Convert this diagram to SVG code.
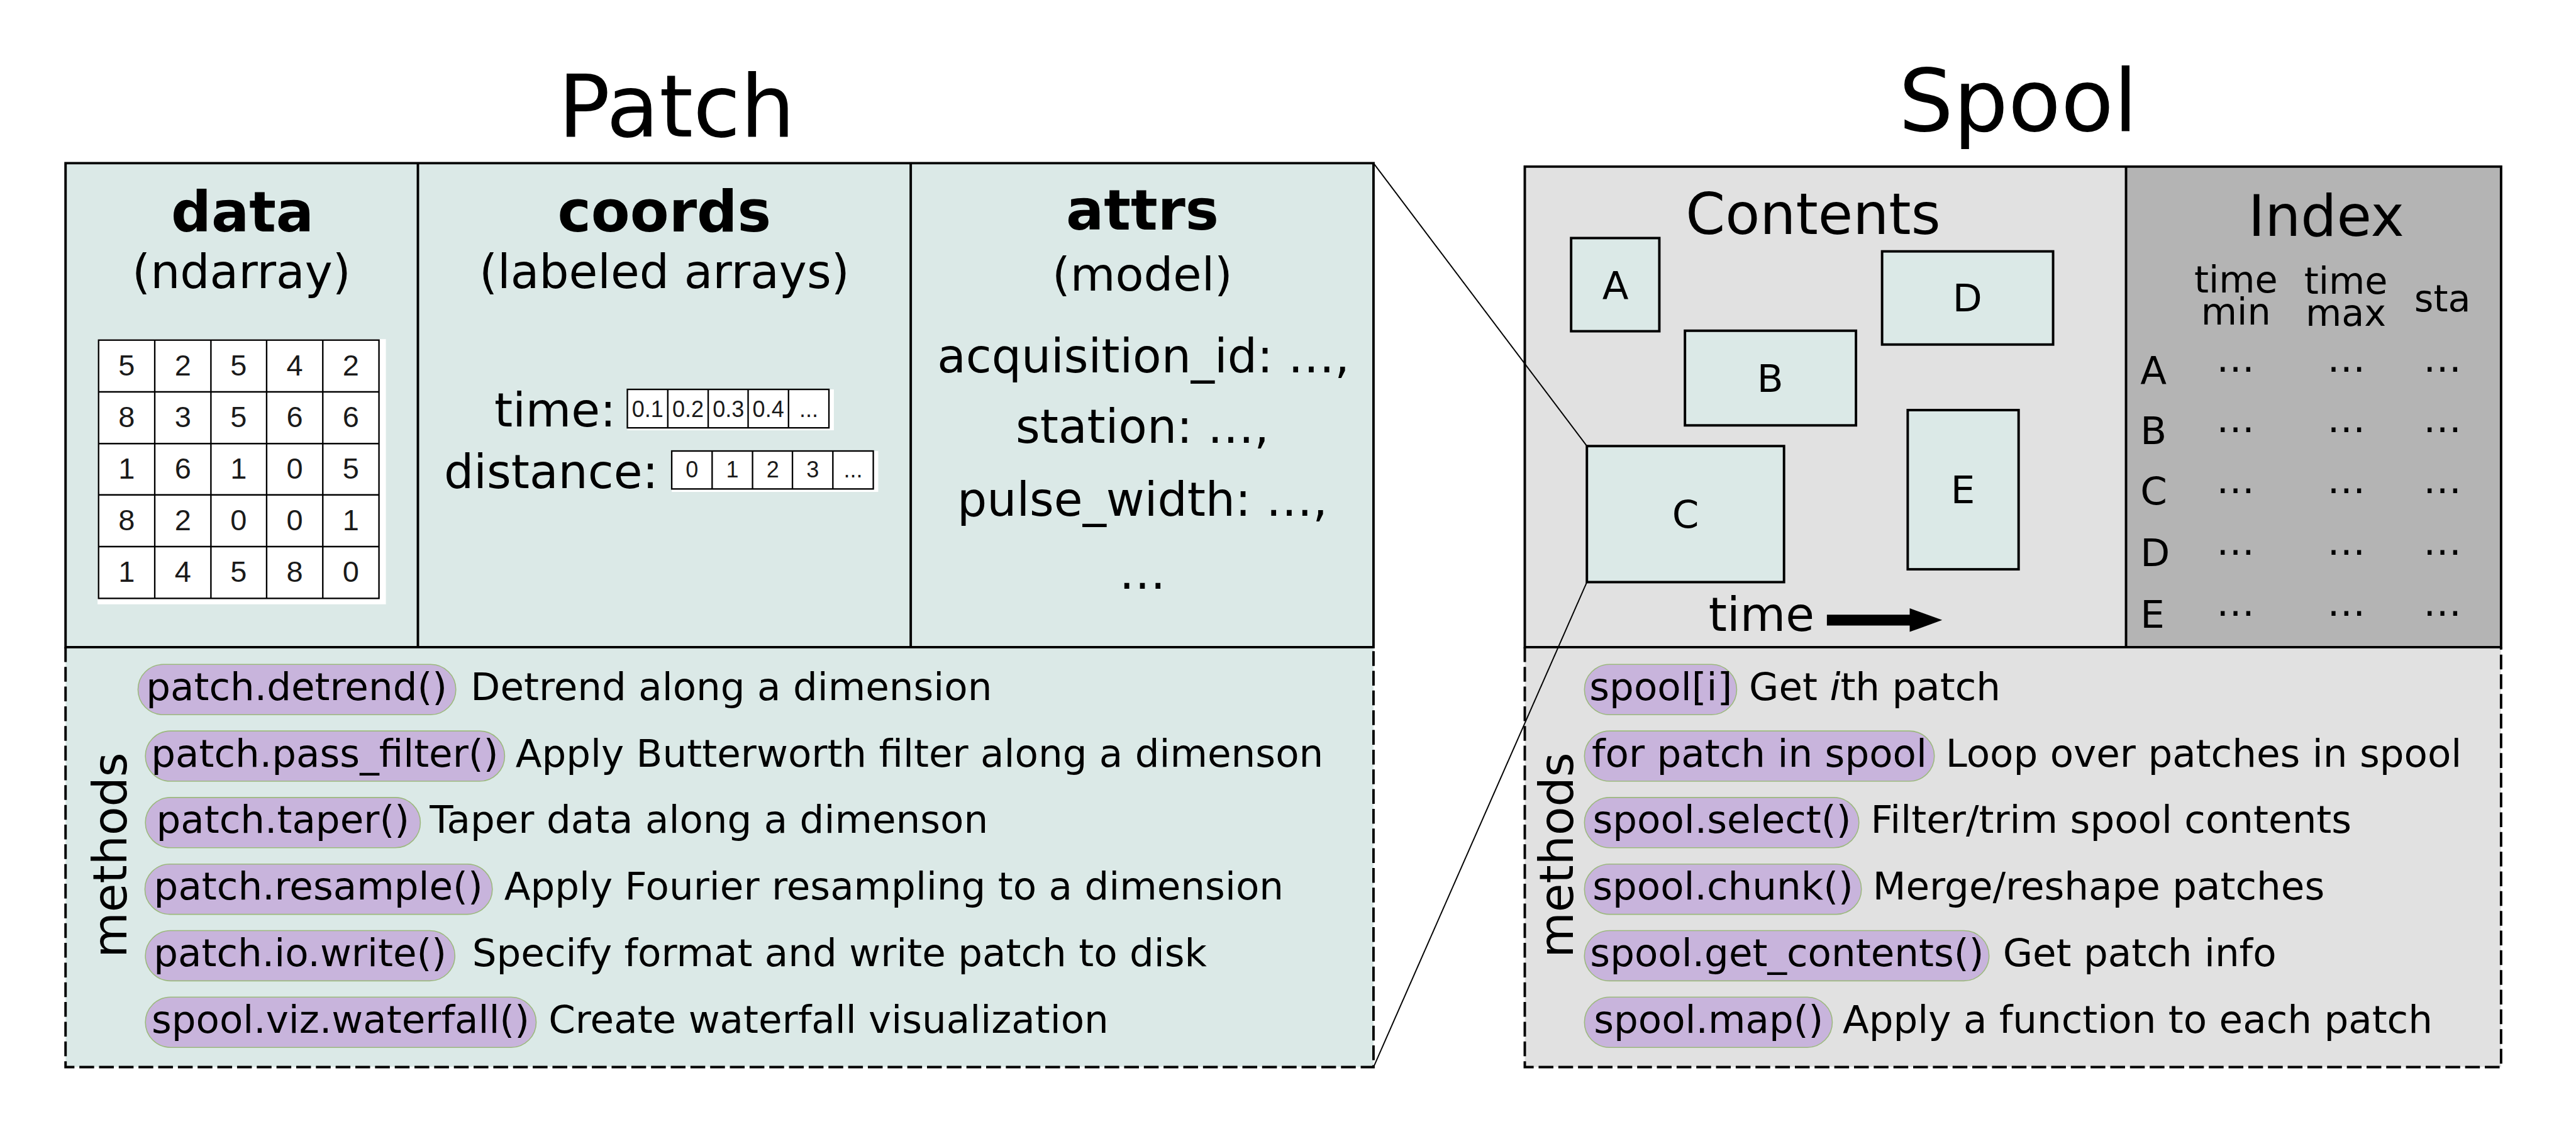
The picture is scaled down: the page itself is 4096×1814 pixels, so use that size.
<svg xmlns="http://www.w3.org/2000/svg" width="4096" height="1814" viewBox="0 0 4096 1814">
<style>
.t{font-family:"DejaVu Sans","Liberation Sans",sans-serif;fill:#000}
.b{font-weight:bold}
.m{text-anchor:middle}
.num{font-family:"Liberation Sans",Arial,sans-serif;fill:#1a1a1a;text-anchor:middle}
.pill{fill:#c8b4dc;stroke:#9cb97e;stroke-width:2}
.solid{stroke:#000;stroke-width:5;fill:none}
.dash{stroke:#000;stroke-width:5;fill:none;stroke-dasharray:30 10}
.grid{stroke:#000;stroke-width:3;fill:none}
.patchbg{fill:#dbe9e7}
.spoolbg{fill:#e1e1e1}
.idxbg{fill:#b4b4b4}
.pbox{fill:#dbe9e7;stroke:#000;stroke-width:5}
.conn{stroke:#000;stroke-width:2.5;fill:none}
</style>
<rect width="4096" height="1814" fill="#fff"/>
<g transform="scale(0.78362)">

<g id="patch">
  <text class="t m" x="1373" y="277" font-size="175">Patch</text>
  <rect class="patchbg" x="133" y="331" width="2654" height="1834"/>
  <g id="patch-data">
    <text class="t b m" x="492" y="469" font-size="114">data</text>
    <text class="t m" x="490" y="585" font-size="95">(ndarray)</text>
    <rect x="198" y="688" width="585" height="538" fill="#fff"/>
    <g class="grid">
      <rect x="200" y="690" width="569" height="524"/>
      <path d="M314 690V1214M428 690V1214M541 690V1214M655 690V1214M200 795H769M200 900H769M200 1004H769M200 1109H769"/>
    </g>
    <g class="num" font-size="60">
      <text x="257" y="762">5</text><text x="371" y="762">2</text><text x="484" y="762">5</text><text x="598" y="762">4</text><text x="712" y="762">2</text>
      <text x="257" y="867">8</text><text x="371" y="867">3</text><text x="484" y="867">5</text><text x="598" y="867">6</text><text x="712" y="867">6</text>
      <text x="257" y="971">1</text><text x="371" y="971">6</text><text x="484" y="971">1</text><text x="598" y="971">0</text><text x="712" y="971">5</text>
      <text x="257" y="1076">8</text><text x="371" y="1076">2</text><text x="484" y="1076">0</text><text x="598" y="1076">0</text><text x="712" y="1076">1</text>
      <text x="257" y="1181">1</text><text x="371" y="1181">4</text><text x="484" y="1181">5</text><text x="598" y="1181">8</text><text x="712" y="1181">0</text>
    </g>
  </g>
  <g id="patch-coords">
    <text class="t b m" x="1348" y="469" font-size="115">coords</text>
    <text class="t m" x="1348" y="585" font-size="95">(labeled arrays)</text>
    <text class="t" x="1003" y="865" font-size="95">time:</text>
    <rect x="1273" y="790" width="419" height="83" fill="#fff"/>
    <g class="grid" stroke-width="2.5">
      <rect x="1273" y="790" width="409" height="78"/>
      <path d="M1355 790V868M1437 790V868M1518 790V868M1600 790V868"/>
    </g>
    <g class="num" font-size="46">
      <text x="1314" y="846">0.1</text><text x="1396" y="846">0.2</text><text x="1478" y="846">0.3</text><text x="1559" y="846">0.4</text><text x="1641" y="846">...</text>
    </g>
    <text class="t" x="901" y="990" font-size="95">distance:</text>
    <rect x="1363" y="915" width="419" height="83" fill="#fff"/>
    <g class="grid" stroke-width="2.5">
      <rect x="1363" y="915" width="409" height="77"/>
      <path d="M1445 915V992M1527 915V992M1608 915V992M1690 915V992"/>
    </g>
    <g class="num" font-size="46">
      <text x="1404" y="969">0</text><text x="1486" y="969">1</text><text x="1568" y="969">2</text><text x="1649" y="969">3</text><text x="1731" y="969">...</text>
    </g>
  </g>
  <g id="patch-attrs">
    <text class="t b m" x="2318" y="466" font-size="114">attrs</text>
    <text class="t m" x="2318" y="589" font-size="94">(model)</text>
    <text class="t m" x="2320" y="755" font-size="95">acquisition_id: …,</text>
    <text class="t m" x="2318" y="899" font-size="95">station: …,</text>
    <text class="t m" x="2318" y="1047" font-size="95">pulse_width: …,</text>
    <text class="t m" x="2318" y="1194" font-size="95">…</text>
  </g>
  <path class="solid" d="M133 331H2787V1313H133Z M848 331V1313 M1848 331V1313"/>
  <path class="dash" d="M133 1313V2165H2787V1313"/>
  <g id="patch-methods">
    <text class="t m" font-size="95" transform="translate(257,1735) rotate(-90)">methods</text>
    <rect class="pill" x="280" y="1348" width="645" height="102" rx="51"/>
    <text class="t m" x="602" y="1420" font-size="78">patch.detrend()</text>
    <text class="t" x="955" y="1420" font-size="78">Detrend along a dimension</text>
    <rect class="pill" x="295" y="1483" width="729" height="102" rx="51"/>
    <text class="t m" x="659" y="1555" font-size="78">patch.pass_filter()</text>
    <text class="t" x="1046" y="1555" font-size="78">Apply Butterworth filter along a dimenson</text>
    <rect class="pill" x="295" y="1618" width="558" height="102" rx="51"/>
    <text class="t m" x="574" y="1690" font-size="78">patch.taper()</text>
    <text class="t" x="872" y="1690" font-size="78">Taper data along a dimenson</text>
    <rect class="pill" x="294" y="1753" width="705" height="102" rx="51"/>
    <text class="t m" x="646" y="1825" font-size="78">patch.resample()</text>
    <text class="t" x="1023" y="1825" font-size="78">Apply Fourier resampling to a dimension</text>
    <rect class="pill" x="295" y="1888" width="628" height="102" rx="51"/>
    <text class="t m" x="609" y="1960" font-size="78">patch.io.write()</text>
    <text class="t" x="958" y="1960" font-size="78">Specify format and write patch to disk</text>
    <rect class="pill" x="295" y="2023" width="793" height="102" rx="51"/>
    <text class="t m" x="691" y="2095" font-size="78">spool.viz.waterfall()</text>
    <text class="t" x="1113" y="2095" font-size="78">Create waterfall visualization</text>
  </g>
</g>

<g id="spool">
  <text class="t m" x="4095" y="265" font-size="175">Spool</text>
  <rect class="spoolbg" x="3094" y="338" width="1981" height="1827"/>
  <rect class="idxbg" x="4314" y="338" width="761" height="975"/>
  <g id="spool-contents">
    <text class="t m" x="3679" y="475" font-size="115">Contents</text>
    <g id="box-A"><rect class="pbox" x="3188" y="483" width="179" height="189"/><text class="t m" x="3278" y="606" font-size="78">A</text></g>
    <g id="box-B"><rect class="pbox" x="3419" y="671" width="347" height="192"/><text class="t m" x="3592" y="795" font-size="78">B</text></g>
    <g id="box-D"><rect class="pbox" x="3819" y="510" width="347" height="189"/><text class="t m" x="3992" y="632" font-size="78">D</text></g>
    <g id="box-C"><rect class="pbox" x="3220" y="905" width="400" height="276"/><text class="t m" x="3420" y="1071" font-size="78">C</text></g>
    <g id="box-E"><rect class="pbox" x="3871" y="832" width="225" height="323"/><text class="t m" x="3983" y="1021" font-size="78">E</text></g>
    <text class="t" x="3467" y="1280" font-size="95">time</text>
    <polygon points="3707,1247 3875,1247 3875,1234 3941,1258 3875,1282 3875,1269 3707,1269" fill="#000"/>
  </g>
  <g id="spool-index">
    <text class="t m" x="4720" y="478" font-size="115">Index</text>
    <g font-size="75">
      <text class="t m" x="4537" y="594">time<tspan x="4537" dy="65">min</tspan></text>
      <text class="t m" x="4760" y="596">time<tspan x="4760" dy="65">max</tspan></text>
      <text class="t m" x="4956" y="632">sta</text>
    </g>
    <g font-size="78">
      <text class="t" x="4343" y="778">A</text><text class="t" x="4343" y="901">B</text><text class="t" x="4343" y="1024">C</text><text class="t" x="4343" y="1149">D</text><text class="t" x="4343" y="1273">E</text>
      <text class="t m" x="4536" y="754">…</text><text class="t m" x="4761" y="754">…</text><text class="t m" x="4956" y="754">…</text>
      <text class="t m" x="4536" y="877">…</text><text class="t m" x="4761" y="877">…</text><text class="t m" x="4956" y="877">…</text>
      <text class="t m" x="4536" y="1000">…</text><text class="t m" x="4761" y="1000">…</text><text class="t m" x="4956" y="1000">…</text>
      <text class="t m" x="4536" y="1125">…</text><text class="t m" x="4761" y="1125">…</text><text class="t m" x="4956" y="1125">…</text>
      <text class="t m" x="4536" y="1249">…</text><text class="t m" x="4761" y="1249">…</text><text class="t m" x="4956" y="1249">…</text>
    </g>
  </g>
  <path class="solid" d="M3094 338H5075V1313H3094Z M4314 338V1313"/>
  <path class="dash" d="M3094 1313V2165H5075V1313"/>
  <g id="spool-methods">
    <text class="t m" font-size="95" transform="translate(3192,1735) rotate(-90)">methods</text>
    <rect class="pill" x="3215" y="1348" width="309" height="102" rx="51"/>
    <text class="t m" x="3370" y="1420" font-size="78">spool[i]</text>
    <text class="t" x="3549" y="1420" font-size="78">Get <tspan font-style="italic">i</tspan>th patch</text>
    <rect class="pill" x="3215" y="1483" width="710" height="102" rx="51"/>
    <text class="t m" x="3570" y="1555" font-size="78">for patch in spool</text>
    <text class="t" x="3948" y="1555" font-size="78">Loop over patches in spool</text>
    <rect class="pill" x="3215" y="1618" width="557" height="102" rx="51"/>
    <text class="t m" x="3494" y="1690" font-size="78">spool.select()</text>
    <text class="t" x="3796" y="1690" font-size="78">Filter/trim spool contents</text>
    <rect class="pill" x="3215" y="1753" width="562" height="102" rx="51"/>
    <text class="t m" x="3496" y="1825" font-size="78">spool.chunk()</text>
    <text class="t" x="3800" y="1825" font-size="78">Merge/reshape patches</text>
    <rect class="pill" x="3215" y="1888" width="821" height="102" rx="51"/>
    <text class="t m" x="3626" y="1960" font-size="78">spool.get_contents()</text>
    <text class="t" x="4064" y="1960" font-size="78">Get patch info</text>
    <rect class="pill" x="3215" y="2023" width="503" height="102" rx="51"/>
    <text class="t m" x="3467" y="2095" font-size="78">spool.map()</text>
    <text class="t" x="3739" y="2095" font-size="78">Apply a function to each patch</text>
  </g>
</g>

<g id="connectors">
  <line class="conn" x1="2787" y1="331" x2="3220" y2="905"/>
  <line class="conn" x1="2787" y1="2165" x2="3220" y2="1181"/>
</g>
</g>
</svg>
